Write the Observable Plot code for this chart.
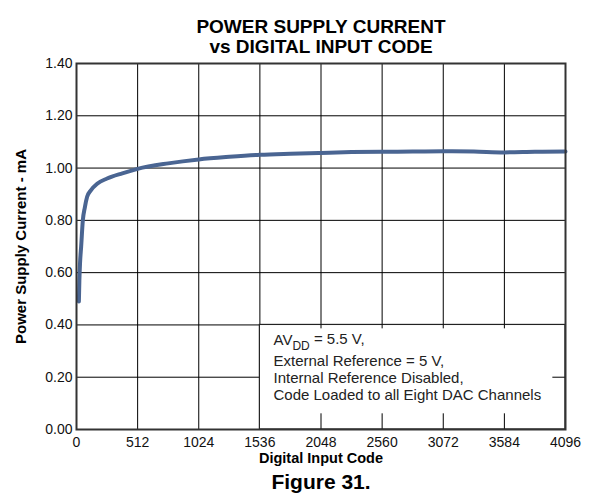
<!DOCTYPE html>
<html>
<head>
<meta charset="utf-8">
<script src="https://cdn.jsdelivr.net/npm/d3@7"></script>
<script src="https://cdn.jsdelivr.net/npm/@observablehq/plot@0.6"></script>
<style>
  html, body { margin: 0; padding: 0; background: #fff; }
  #chart { width: 590px; height: 498px; }
</style>
</head>
<body>
<div id="chart"></div>
<script>
// ---- data ----
const titleLines = ["POWER SUPPLY CURRENT", "vs DIGITAL INPUT CODE"];
const xLabel = "Digital Input Code";
const yLabel = "Power Supply Current - mA";
const figureLabel = "Figure 31.";
const xTicks = [0, 512, 1024, 1536, 2048, 2560, 3072, 3584, 4096];
const yTicks = [0, 0.2, 0.4, 0.6, 0.8, 1.0, 1.2, 1.4];
const codes   = [20, 24, 30, 39, 53, 70, 89, 120, 173, 256, 384, 512, 768, 1024, 1280, 1536, 1792, 2048, 2304, 2560, 2816, 3072, 3328, 3584, 3840, 4096];
const current = [0.49, 0.57, 0.64, 0.70, 0.80, 0.85, 0.89, 0.915, 0.94, 0.96, 0.98, 0.997, 1.018, 1.033, 1.043, 1.051, 1.055, 1.058, 1.061, 1.062, 1.063, 1.064, 1.063, 1.060, 1.062, 1.063];
const noteBox = {x1: 1536, x2: 4096, y1: 0, y2: 0.4};
const noteLines = ["AV_DD = 5.5 V,", "External Reference = 5 V,", "Internal Reference Disabled,", "Code Loaded to all Eight DAC Channels"];
const noteY = [0.34, 0.261, 0.195, 0.130];
const noteX = 1650;

const data = codes.map((c, i) => ({code: c, ma: current[i]}));
const notes = noteLines.map((t, i) => ({t, x: noteX, y: noteY[i]}));
const innerX = xTicks.filter(v => v > noteBox.x1 && v < noteBox.x2);

const font = "'Liberation Sans', Arial, Helvetica, sans-serif";

const chart = Plot.plot({
  width: 590,
  height: 498,
  marginLeft: 76,
  marginRight: 25,
  marginTop: 63,
  marginBottom: 69,
  style: {fontFamily: font, fontSize: "14px", color: "#111", background: "#fff"},
  x: {domain: [0, 4096], label: null},
  y: {domain: [0, 1.4], label: null},
  marks: [
    Plot.ruleX(xTicks.slice(1, -1), {stroke: "#000", strokeWidth: 1}),
    Plot.ruleY(yTicks.slice(1, -1), {stroke: "#000", strokeWidth: 1}),
    Plot.rect([noteBox], {x1: "x1", x2: "x2", y1: "y1", y2: "y2", fill: "#fff", stroke: "#222", strokeWidth: 1.2}),
    Plot.ruleX(innerX, {y1: 0, y2: 0.06, stroke: "#000"}),
    Plot.ruleX(innerX, {y1: 0.4, y2: 0.385, stroke: "#000"}),
    Plot.ruleY([0.2], {x1: 3990, x2: 4096, stroke: "#000"}),
    Plot.line(data, {x: "code", y: "ma", stroke: "#4a6592", strokeWidth: 4, curve: "monotone-x"}),
    Plot.frame({stroke: "#333", strokeWidth: 2}),
    Plot.axisX({ticks: xTicks, tickSize: 0, tickPadding: 8, tickFormat: d3.format("d"), fontSize: 14, label: null}),
    Plot.axisY({ticks: yTicks, tickSize: 0, tickPadding: 4, tickFormat: d3.format(".2f"), fontSize: 14, label: null}),
    Plot.text(notes, {x: "x", y: "y", text: "t", textAnchor: "start", fontSize: 15, fill: "#222"}),
    Plot.text([titleLines[0]], {frameAnchor: "top", dy: -44, fontSize: 19, fontWeight: "bold", fill: "#000"}),
    Plot.text([titleLines[1]], {frameAnchor: "top", dy: -24, fontSize: 19, fontWeight: "bold", fill: "#000"}),
    Plot.text([xLabel], {frameAnchor: "bottom", dy: 33, fontSize: 14.5, fontWeight: "bold", fill: "#000"}),
    Plot.text([figureLabel], {frameAnchor: "bottom", dy: 59, fontSize: 21, fontWeight: "bold", fill: "#000"}),
    Plot.text([yLabel], {frameAnchor: "left", textAnchor: "middle", dx: -55, rotate: -90, fontSize: 15, fontWeight: "bold", fill: "#000"})
  ]
});

// subscript for AV_DD
d3.select(chart).selectAll("text").each(function() {
  const el = d3.select(this);
  if (this.textContent === "AV_DD = 5.5 V,") {
    el.text(null);
    el.append("tspan").text("AV");
    el.append("tspan").attr("dy", "0.35em").attr("font-size", "12").text("DD");
    el.append("tspan").attr("dy", "-0.35em").text(" = 5.5 V,");
  }
});

document.getElementById("chart").appendChild(chart);
</script>
</body>
</html>
